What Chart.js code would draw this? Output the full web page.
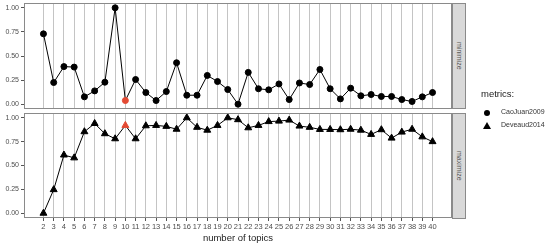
<!DOCTYPE html>
<html>
<head>
<meta charset="utf-8">
<script src="https://cdn.jsdelivr.net/npm/chart.js@4"></script>
<style>
  body { margin: 0; background: #fff; font-family: "Liberation Sans", Arial, sans-serif; }
  #wrap { position: relative; width: 550px; height: 244px; }
  canvas { position: absolute; left: 0; }
  #top { top: 0; }
  #bottom { top: 109px; }
  .strip { position: absolute; left: 452px; width: 14px; background: #d9d9d9; border: 1px solid #8a8a8a;
           box-sizing: border-box; color: #555; font-size: 7px; writing-mode: vertical-rl;
           display: flex; align-items: center; justify-content: center; }
  .legend { position: absolute; left: 481px; color: #222; }
  .legend .title { font-size: 9.5px; }
  .item { position: absolute; left: 0; font-size: 7px; white-space: nowrap; }
  .item span { position: absolute; left: 20px; top: -5px; color: #333; }
  .dot { position: absolute; left: 3px; top: -3px; width: 6px; height: 6px; border-radius: 50%; background: #000; }
  .tri { position: absolute; left: 2px; top: -4px; width: 0; height: 0; border-left: 4px solid transparent;
         border-right: 4px solid transparent; border-bottom: 7px solid #000; }
</style>
</head>
<body>
<div id="wrap">
  <canvas id="top" width="550" height="109"></canvas>
  <canvas id="bottom" width="550" height="135"></canvas>
  <div class="strip" style="top:3px;height:106px;">minimize</div>
  <div class="strip" style="top:113px;height:106px;">maximize</div>
  <div class="legend" style="top:88px;">
    <div class="title">metrics:</div>
    <div class="item" style="top:25px;"><div class="dot"></div><span>CaoJuan2009</span></div>
    <div class="item" style="top:38px;"><div class="tri"></div><span>Deveaud2014</span></div>
  </div>
</div>
<script>
var topics = [];
for (var t = 2; t <= 40; t++) topics.push(t);

var caoJuan2009 = [0.73, 0.225, 0.39, 0.385, 0.076, 0.138, 0.228, 1.00, 0.038, 0.256,
  0.121, 0.038, 0.131, 0.43, 0.093, 0.093, 0.298, 0.235, 0.152, 0.0,
  0.33, 0.16, 0.149, 0.21, 0.048, 0.22, 0.204, 0.36, 0.16, 0.055,
  0.166, 0.087, 0.10, 0.08, 0.08, 0.048, 0.028, 0.076, 0.121];

var deveaud2014 = [0.0, 0.247, 0.61, 0.58, 0.854, 0.94, 0.833, 0.78, 0.92, 0.78,
  0.916, 0.92, 0.91, 0.88, 1.0, 0.90, 0.87, 0.92, 1.0, 0.98,
  0.895, 0.92, 0.96, 0.965, 0.976, 0.913, 0.90, 0.878, 0.878, 0.875,
  0.88, 0.87, 0.826, 0.875, 0.787, 0.85, 0.88, 0.80, 0.75];

var yTicks = [0, 0.25, 0.5, 0.75, 1];
var bestTopic = 10;

var red = '#e34a33';
function pointColors() {
  return topics.map(function (t) { return t === bestTopic ? red : '#000'; });
}

var panelBorder = {
  id: 'panelBorder',
  afterDraw: function (chart) {
    var a = chart.chartArea, c = chart.ctx;
    c.save();
    c.strokeStyle = '#8a8a8a';
    c.lineWidth = 1;
    c.strokeRect(Math.round(a.left) + 0.5, Math.round(a.top) + 0.5,
      Math.round(a.right - a.left) - 1, Math.round(a.bottom - a.top) - 1);
    c.restore();
  }
};

// drop the label overhang padding so the panel keeps its own size
function noPad(s) {
  s.paddingTop = 0; s.paddingBottom = 0; s.paddingLeft = 0; s.paddingRight = 0;
}

function makeChart(id, values, style, radius, showX) {
  var ctx = document.getElementById(id).getContext('2d');
  return new Chart(ctx, {
    type: 'line',
    data: {
      datasets: [{
        data: topics.map(function (t, i) { return { x: t, y: values[i] }; }),
        borderColor: '#000',
        borderWidth: 1,
        pointStyle: style,
        pointRadius: radius,
        pointBackgroundColor: pointColors(),
        pointBorderColor: pointColors(),
        pointBorderWidth: 1,
        tension: 0,
        clip: false
      }]
    },
    plugins: [panelBorder],
    options: {
      responsive: false,
      animation: false,
      layout: { autoPadding: false, padding: { top: showX ? 4 : 3, right: 98, left: 0, bottom: 0 } },
      plugins: { legend: { display: false }, tooltip: { enabled: false } },
      scales: {
        x: {
          type: 'linear',
          min: 0.1,
          max: 41.9,
          afterBuildTicks: function (s) { s.ticks = topics.map(function (v) { return { value: v }; }); },
          grid: { color: '#c4c4c4', lineWidth: 1, drawTicks: showX, tickLength: 3, tickColor: '#555' },
          border: { display: false },
          ticks: {
            display: showX,
            autoSkip: false,
            maxRotation: 0,
            padding: 1,
            color: '#4d4d4d',
            font: { size: 7.5, family: '"Liberation Sans", Arial, sans-serif' }
          },
          title: {
            display: showX,
            text: 'number of topics',
            color: '#222',
            padding: { top: 0, bottom: 0 },
            font: { size: 9.5, family: '"Liberation Sans", Arial, sans-serif' }
          },
          afterFit: function (s) { s.height = showX ? 26 : 0; noPad(s); }
        },
        y: {
          min: -0.05,
          max: 1.05,
          afterBuildTicks: function (s) { s.ticks = yTicks.map(function (v) { return { value: v }; }); },
          afterFit: function (s) { s.width = 24; noPad(s); },
          grid: { drawOnChartArea: false, drawTicks: true, tickLength: 3, tickColor: '#555' },
          border: { display: false },
          ticks: {
            padding: 2,
            color: '#4d4d4d',
            font: { size: 7, family: '"Liberation Sans", Arial, sans-serif' },
            callback: function (v) { return v.toFixed(2); }
          }
        }
      }
    }
  });
}

makeChart('top', caoJuan2009, 'circle', 3, false);
makeChart('bottom', deveaud2014, 'triangle', 4, true);
</script>
</body>
</html>
